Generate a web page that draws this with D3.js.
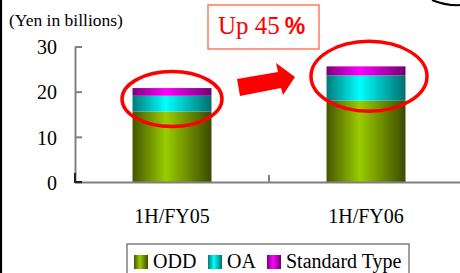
<!DOCTYPE html>
<html><head><meta charset="utf-8">
<script src="https://cdn.jsdelivr.net/npm/d3@7"></script>
<style>
html,body{margin:0;padding:0;background:#fff;overflow:hidden;}
svg text{font-family:"Liberation Serif","Times New Roman",Times,"DejaVu Serif","Noto Serif",serif !important;}
svg text tspan.pct{font-family:"Liberation Sans","DejaVu Sans",sans-serif !important;}
</style></head>
<body>
<svg id="chart" width="460" height="273"></svg>
<script>
const categories = ["1H/FY05", "1H/FY06"];
const seriesNames = ["ODD", "OA", "Standard Type"];
const oddValues = [15.6, 18.0];
const oaValues = [3.5, 5.6];
const stdValues = [1.7, 2.0];
const yTicks = [0, 10, 20, 30];
const unitLabel = "(Yen in billions)";
const calloutText = "Up 45";
const calloutPct = "%";

const svg = d3.select("#chart");
const defs = svg.append("defs");
const palettes = [
  {id:"gOdd", edgeL:"#465600", mid:"#9acc00", edgeR:"#3c4a00"},
  {id:"gOa", edgeL:"#007a7a", mid:"#00ffff", edgeR:"#006e6e"},
  {id:"gStd", edgeL:"#7a007a", mid:"#ff00ff", edgeR:"#700070"}
];
palettes.forEach(p => {
  const g = defs.append("linearGradient").attr("id", p.id)
    .attr("x1","0%").attr("x2","100%").attr("y1","0%").attr("y2","0%");
  g.append("stop").attr("offset","0%").attr("stop-color",p.edgeL);
  g.append("stop").attr("offset","42%").attr("stop-color",p.mid);
  g.append("stop").attr("offset","100%").attr("stop-color",p.edgeR);
});

// frame decorations
svg.append("line").attr("x1",1).attr("x2",1).attr("y1",0).attr("y2",273)
  .attr("stroke","#000").attr("stroke-width",2.2);
svg.append("path").attr("d","M432,0 Q446,6 462,5").attr("fill","none")
  .attr("stroke","#000").attr("stroke-width",2);

const y = d3.scaleLinear().domain([0,30]).range([182,46.5]);
const x = d3.scaleBand().domain(categories).range([75,463]).padding(0);
const barW = x.bandwidth()*0.407;

const data = categories.map((c,i)=>({cat:c, ODD:oddValues[i], OA:oaValues[i], "Standard Type":stdValues[i]}));
const stack = d3.stack().keys(seriesNames)(data);

// bars
stack.forEach((layer, li) => {
  svg.append("g").selectAll("rect").data(layer).join("rect")
    .attr("x", d => x(d.data.cat) + x.bandwidth()/2 - barW/2)
    .attr("width", barW)
    .attr("y", d => y(d[1]))
    .attr("height", d => y(d[0]) - y(d[1]))
    .attr("fill", `url(#${palettes[li].id})`);
});

// y axis
const yAxis = svg.append("g").attr("transform","translate(75,0)")
  .call(d3.axisLeft(y).tickValues(yTicks).tickSize(-7).tickSizeOuter(0).tickPadding(18));
yAxis.attr("font-family", null).attr("font-size", null);
yAxis.select(".domain").attr("stroke","#808080").attr("stroke-width",2);
yAxis.selectAll(".tick line").attr("stroke","#808080").attr("stroke-width",2);
yAxis.selectAll(".tick text").style("font-size","20px").attr("fill","#000").attr("dy","0.36em");

// x axis
const xAxis = svg.append("g").attr("transform","translate(0,182)")
  .call(d3.axisBottom(x).tickSize(0).tickSizeOuter(0).tickPadding(27));
xAxis.attr("font-family", null).attr("font-size", null);
xAxis.select(".domain").attr("stroke","#808080").attr("stroke-width",2);
xAxis.selectAll(".tick text").style("font-size","20px").attr("fill","#000");
// category separator tick
svg.append("line").attr("x1", x(categories[1])).attr("x2", x(categories[1]))
  .attr("y1",175).attr("y2",182).attr("stroke","#808080").attr("stroke-width",2);
// dark corner at origin
svg.append("path").attr("d",`M75,${y(0)-9} V${y(0)} H82`).attr("fill","none")
  .attr("stroke","#222").attr("stroke-width",2);

// unit label
svg.append("text").attr("x",9).attr("y",26).style("font-size","17.5px").text(unitLabel);

// highlight ellipses around the bar tops
const tops = data.map(d => d.ODD + d.OA + d["Standard Type"]);
const ell = [{rx:50, ry:27.5, dy:11}, {rx:58, ry:35, dy:10}];
categories.forEach((c,i)=>{
  svg.append("ellipse")
    .attr("cx", x(c)+x.bandwidth()/2 + (i?3:0))
    .attr("cy", y(tops[i]) + ell[i].dy)
    .attr("rx", ell[i].rx).attr("ry", ell[i].ry)
    .attr("fill","none").attr("stroke","#ff0000").attr("stroke-width",3.5);
});

// arrow
svg.append("polygon")
  .attr("points","237,79 278,72 276,63 295,77 283,95 281,88 240,96")
  .attr("fill","#ff0000");

// callout box
svg.append("rect").attr("x",208).attr("y",5).attr("width",111).attr("height",44)
  .attr("fill","#fff").attr("stroke","#ff7a5e").attr("stroke-width",1.5);
const ct = svg.append("text").attr("x",218).attr("y",34).attr("fill","#ff0000").style("font-size","25px");
ct.append("tspan").text(calloutText);
ct.append("tspan").attr("class","pct").attr("dx",5).attr("font-weight","bold")
  .style("font-size","23px").text(calloutPct);

// legend
svg.append("rect").attr("x",127).attr("y",244).attr("width",282).attr("height",40)
  .attr("fill","#fff").attr("stroke","#808080").attr("stroke-width",1.5);
const legendX = [134, 208, 267];
seriesNames.forEach((s,i)=>{
  svg.append("rect").attr("x",legendX[i]).attr("y",255).attr("width",14).attr("height",14)
    .attr("fill",`url(#${palettes[i].id})`);
  svg.append("text").attr("x",legendX[i]+19).attr("y",268).style("font-size","20px").text(s);
});
</script>
</body></html>
